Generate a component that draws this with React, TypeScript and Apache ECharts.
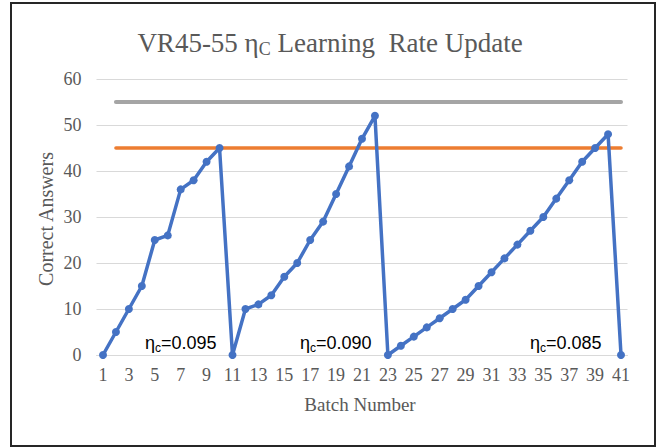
import React, { useEffect, useRef } from "react";
import * as echarts from "echarts";

const batches = ["1","2","3","4","5","6","7","8","9","10","11","12","13","14","15","16","17","18","19","20","21","22","23","24","25","26","27","28","29","30","31","32","33","34","35","36","37","38","39","40","41"];
const correctAnswers = [0,5,10,15,25,26,36,38,42,45,0,10,11,13,17,20,25,29,35,41,47,52,0,2,4,6,8,10,12,15,18,21,24,27,30,34,38,42,45,48,0];
const upperThreshold = 55;
const lowerThreshold = 45;
const thresholdFrom = "2";
const thresholdTo = "41";
const yTicks = { min: 0, max: 60, interval: 10 };
const rateLabels = ["0.095", "0.090", "0.085"];

const SERIF = "'Liberation Serif', 'Times New Roman', serif";
const SANS = "'Liberation Sans', Arial, sans-serif";

export default function App() {
  const ref = useRef<HTMLDivElement>(null);
  useEffect(() => {
    if (!ref.current) return;
    const chart = echarts.init(ref.current, undefined, { renderer: "svg" });
    const rateText = (v: string, x: number) => ({
      type: "text",
      x,
      y: 343,
      style: {
        text: "η{s|c}=" + v,
        font: "18px " + SANS,
        fill: "#000",
        textVerticalAlign: "middle",
        rich: { s: { fontSize: 12, fontFamily: SANS, fill: "#000", padding: [9, 0, 0, 0] } },
      },
    });
    chart.setOption({
      animation: false,
      backgroundColor: "#fff",
      title: {
        text: "VR45-55 η{sub|C} Learning  Rate Update",
        left: "center",
        top: 22,
        textStyle: {
          fontFamily: SERIF,
          fontSize: 27,
          fontWeight: "normal",
          color: "#595959",
          rich: {
            sub: { fontFamily: SERIF, fontSize: 18, color: "#595959", padding: [13, 0, 0, 0] },
          },
        },
      },
      grid: { left: 96.5, right: 32.5, top: 79, bottom: 92 },
      xAxis: {
        type: "category",
        data: batches,
        boundaryGap: true,
        axisTick: { show: false },
        axisLine: { lineStyle: { color: "#D9D9D9", width: 1 } },
        axisLabel: { interval: 1, color: "#595959", fontFamily: SERIF, fontSize: 18, margin: 11 },
      },
      yAxis: {
        type: "value",
        min: yTicks.min,
        max: yTicks.max,
        interval: yTicks.interval,
        axisLine: { show: false },
        axisTick: { show: false },
        splitLine: { lineStyle: { color: "#D9D9D9", width: 1 } },
        axisLabel: { color: "#595959", fontFamily: SERIF, fontSize: 18, margin: 15 },
      },
      series: [
        {
          type: "line",
          data: [[thresholdFrom, upperThreshold], [thresholdTo, upperThreshold]],
          showSymbol: false,
          symbol: "none",
          lineStyle: { color: "#A5A5A5", width: 4, cap: "round" },
          z: 1,
        },
        {
          type: "line",
          data: [[thresholdFrom, lowerThreshold], [thresholdTo, lowerThreshold]],
          showSymbol: false,
          symbol: "none",
          lineStyle: { color: "#ED7D31", width: 3.5, cap: "round" },
          z: 2,
        },
        {
          type: "line",
          data: correctAnswers,
          symbol: "circle",
          symbolSize: 8,
          itemStyle: { color: "#4472C4" },
          lineStyle: { color: "#4472C4", width: 3.5 },
          z: 3,
        },
      ],
      graphic: [
        {
          type: "rect",
          shape: { x: 11, y: 3, width: 644, height: 443 },
          style: { fill: "none", stroke: "#262626", lineWidth: 2 },
          silent: true,
        },
        {
          type: "text",
          x: 46,
          y: 219,
          rotation: Math.PI / 2,
          style: {
            text: "Correct Answers",
            font: "20px " + SERIF,
            fill: "#595959",
            textAlign: "center",
            textVerticalAlign: "middle",
          },
        },
        {
          type: "text",
          x: 360,
          y: 404,
          style: {
            text: "Batch Number",
            font: "19px " + SERIF,
            fill: "#595959",
            textAlign: "center",
            textVerticalAlign: "middle",
          },
        },
        rateText(rateLabels[0], 145),
        rateText(rateLabels[1], 300),
        rateText(rateLabels[2], 530),
      ],
    });
    return () => chart.dispose();
  }, []);
  return (
    <div style={{ position: "fixed", left: 0, top: 0 }}>
      <div ref={ref} style={{ width: 660, height: 447 }} />
    </div>
  );
}
